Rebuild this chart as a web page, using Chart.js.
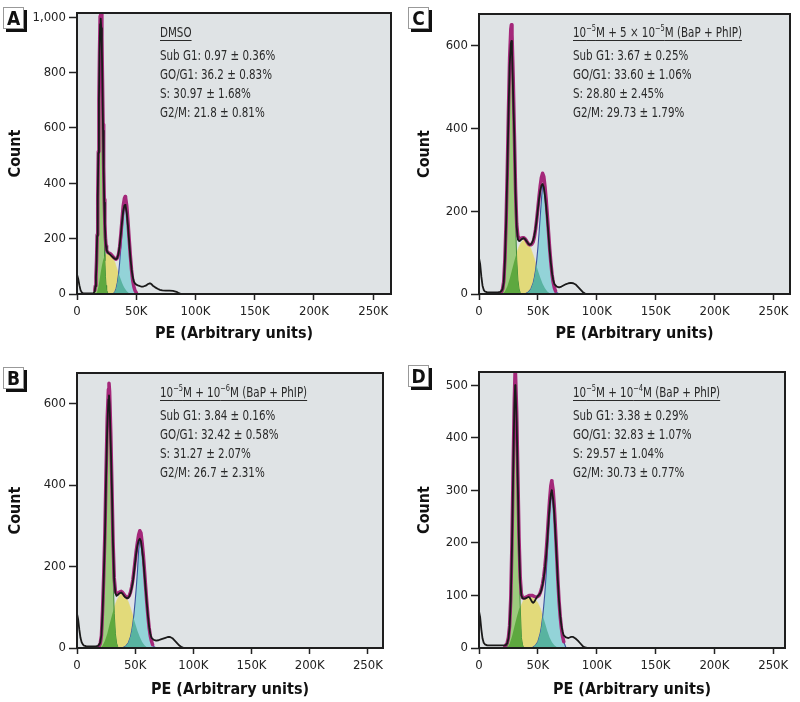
<!DOCTYPE html>
<html>
<head>
<meta charset="utf-8">
<script src="https://cdn.jsdelivr.net/npm/chart.js@4.4.1/dist/chart.umd.min.js"></script>
<style>
  body { margin: 0; background: #fff; width: 800px; height: 702px; position: relative; overflow: hidden;
         font-family: 'Liberation Sans Narrow', 'Arial Narrow', 'DejaVu Sans Condensed', sans-serif; }
  .panel { position: absolute; width: 400px; height: 351px; }
  .tag { position: absolute; width: 19px; height: 20px; background: #fff; border: 1px solid #999;
         box-shadow: 3px 3px 0 #111; font-weight: bold; font-size: 19px; line-height: 20px;
         text-align: center; color: #111; }
  .note { position: absolute; font-size: 14px; color: #2a2a2a; line-height: 19px; white-space: nowrap;
          transform: scaleX(0.82); transform-origin: 0 0; }
  .note .head { text-decoration: underline; text-underline-offset: 3px; margin-bottom: 4px; }
  .note sup { font-size: 9px; vertical-align: 6px; line-height: 0; }
</style>
</head>
<body>
<script>
// ---- data (x in K units of PE, y = count) ----
const xTicks = [0, 50, 100, 150, 200, 250];
const yTicksA = [0, 200, 400, 600, 800, 1000];
const yTicksB = [0, 200, 400, 600];
const yTicksC = [0, 200, 400, 600];
const yTicksD = [0, 100, 200, 300, 400, 500];

// A: DMSO
const blackXA = [0,1,2,3,4,5,6,8,10,12,14,15,15.5,16,16.5,17,17.5,18,18.5,19,19.5,20,20.5,21,21.5,22,22.5,23,23.5,24,24.5,25,26,27,28,29,30,31,32,33,34,35,36,37,38,39,40,40.7,41,42,43,44,45,46,47,48,49,50,52,54,56,58,60,61,62,63,64,66,68,70,72,75,78,81,84,86,88,265];
const blackYA = [70,55,32,14,6,3,2,2,2,2,3,10,28,60,115,210,345,510,700,870,975,995,960,880,740,590,445,330,250,200,172,158,150,146,142,138,134,130,127,126,130,145,175,215,260,300,320,322,318,292,245,190,135,92,62,45,38,34,30,27,27,30,36,38,38,35,30,24,19,15,13,12,12,11,8,3,0,0];
const fitXA = [15,15.5,16,16.5,17,17.5,18,18.5,19,19.5,20,20.5,21,21.5,22,22.5,23,23.5,24,24.5,25,26,27,28,29,30,31,32,33,34,35,36,37,38,39,40,40.7,41,42,43,44,45,46,47,48,49,50];
const fitYA = [13,30,62,120,214,348,515,701,874,1003,1058,1029,926,776,612,461,341,256,204,174,158,150,148,146,142,137,132,128,126,130,142,170,215,268,318,345,352,348,318,262,200,140,88,50,26,12,5];
const g1XA = [13,14,15,15.5,16,16.5,17,17.5,18,18.5,19,19.5,20,20.5,21,21.5,22,22.5,23,23.5,24,24.5,25,26,27];
const g1YA = [0,2,13,30,62,117,206,332,490,664,824,939,980,945,830,672,498,338,210,120,64,31,14,3,0];
const sXA = [16,17,18,19,20,21,22,23,24,25,26,27,28,29,30,31,32,33,34,35,36,37,38,39,40,41,42,43,44,45,46];
const sYA = [0,8,25,50,78,102,122,135,142,145,145,143,140,136,130,123,115,100,88,76,64,52,41,31,23,16,10,6,3,1,0];
const g2XA = [30,31,32,33,34,35,36,37,38,39,40,40.7,41,42,43,44,45,46,47,48,49,50,52,53];
const g2YA = [0,3,8,20,40,70,114,167,225,277,308,315,313,292,245,192,135,86,51,27,13,6,1,0];

// B: 10^-5 M + 10^-6 M
const blackXB = [0,1,2,3,4,5,6,7,8,10,12,14,16,18,19,20,21,22,23,24,25,26,27,27.5,28,29,30,31,32,33,34,35,36,37,38,39,40,41,42,43,44,45,46,47,48,49,50,51,52,53,54,55,56,57,58,59,60,61,62,63,64,66,68,70,72,74,76,78,80,82,84,86,88,90,92,263];
const blackYB = [84,70,45,25,14,9,6,5,4,4,4,4,4,5,8,14,32,90,175,270,420,540,610,620,600,500,390,250,165,135,128,130,133,135,136,134,130,126,124,122,123,127,135,147,162,185,210,235,253,264,268,262,240,215,180,145,110,78,52,35,25,20,18,19,21,23,25,27,27,24,18,12,6,2,0,0];
const fitXB = [19,20,21,22,23,24,25,26,27,27.5,28,29,30,31,32,33,34,35,36,37,38,39,40,41,42,43,44,45,46,47,48,49,50,51,52,53,54,55,56,57,58,59,60,61,62,63,64,65];
const fitYB = [5,12,30,95,180,285,435,565,635,650,630,530,400,260,172,140,133,134,136,138,139,137,133,129,126,124,125,129,137,150,167,190,215,240,260,278,288,282,258,228,190,150,112,78,50,30,17,8];
const g1XB = [19,20,21,22,23,24,25,26,27,27.5,28,29,30,31,32,33,34,35,36];
const g1YB = [0,3,12,45,115,235,395,530,600,610,595,480,320,180,85,35,12,3,0];
const sXB = [20,22,24,26,28,30,32,34,36,38,40,42,44,46,48,50,52,54,56,58,60,62];
const sYB = [0,6,18,35,58,80,100,116,127,133,132,126,114,98,80,60,42,27,15,7,2,0];
const g2XB = [40,42,44,46,47,48,49,50,51,52,53,54,55,56,57,58,59,60,61,62,63,64,65,66,68];
const g2YB = [2,5,12,28,42,60,85,115,150,190,240,266,255,232,205,175,135,100,70,46,28,15,8,4,0];

// C: 10^-5 M + 5x10^-5 M
const blackXC = [0,1,2,3,4,5,6,7,8,10,12,14,16,18,19,20,21,22,23,24,25,26,27,27.5,28,29,30,31,32,33,34,35,36,37,38,39,40,41,42,43,44,45,46,47,48,49,50,51,52,53,54,55,56,57,58,59,60,61,62,63,64,66,68,70,72,74,76,78,80,82,84,86,88,90,92,264];
const blackYC = [87,72,42,20,10,6,5,4,4,4,4,4,4,5,7,12,28,80,170,290,430,550,605,612,590,480,380,245,162,132,128,129,132,134,135,133,129,125,121,119,120,124,130,142,158,180,205,230,250,262,266,258,238,212,178,142,105,75,50,34,24,18,16,18,21,24,26,27,26,23,17,11,5,1,0,0];
const fitXC = [19,20,21,22,23,24,25,26,27,27.5,28,29,30,31,32,33,34,35,36,37,38,39,40,41,42,43,44,45,46,47,48,49,50,51,52,53,54,55,56,57,58,59,60,61,62,63,64,65];
const fitYC = [5,12,30,85,175,295,440,570,640,651,628,525,390,255,170,140,134,134,135,136,136,134,130,125,121,119,119,121,126,138,156,180,208,236,262,282,292,284,260,228,190,150,110,76,48,28,15,7];
const g1XC = [19,20,21,22,23,24,25,26,27,27.5,28,29,30,31,32,33,34,35,36];
const g1YC = [0,3,12,42,112,232,390,525,595,605,590,475,318,178,84,34,12,3,0];
const sXC = [20,22,24,26,28,30,32,34,36,38,40,42,44,46,48,50,52,54,56,58,60,62];
const sYC = [0,6,18,36,58,80,100,115,126,131,130,123,110,94,76,57,40,25,14,6,2,0];
const g2XC = [40,42,44,46,47,48,49,50,51,52,53,54,55,56,57,58,59,60,61,62,63,64,65,66,68];
const g2YC = [2,5,12,27,40,57,82,112,148,188,228,264,258,240,212,178,138,102,71,46,28,15,8,4,0];

// D: 10^-5 M + 10^-4 M
const blackXD = [0,1,2,3,4,5,6,7,8,10,12,14,16,18,20,22,23,24,25,26,27,28,29,30,30.7,31,32,33,34,35,36,37,38,39,40,41,42,43,44,45,46,47,48,49,50,51,52,53,54,55,56,57,58,59,60,61,61.8,62,63,64,65,66,67,68,69,70,71,72,74,76,78,80,82,84,86,88,90,92,260];
const blackYD = [70,58,35,18,10,7,6,5,5,5,5,5,5,5,5,5,6,9,18,40,90,190,330,455,500,495,430,310,195,125,100,95,94,94,95,96,97,96,92,88,86,88,92,96,99,101,104,110,120,133,150,173,203,238,270,292,300,298,283,255,215,172,127,90,62,43,31,24,20,19,21,21,18,14,9,4,1,0,0];
const fitXD = [22,23,24,25,26,27,28,29,30,30.7,31,32,33,34,35,36,37,38,39,40,41,42,43,44,45,46,47,48,49,50,51,52,53,54,55,56,57,58,59,60,61,61.8,62,63,64,65,66,67,68,69,70,71,72];
const fitYD = [3,6,10,20,42,95,200,340,470,530,522,450,330,210,135,103,96,95,96,97,98,99,100,100,100,99,98,97,97,98,100,105,112,122,136,155,180,212,248,282,308,318,316,300,268,225,178,130,90,60,38,22,12];
const g1XD = [23,24,25,26,27,28,29,30,30.7,31,32,33,34,35,36,37,38];
const g1YD = [0,3,10,28,70,160,290,420,480,475,405,285,165,80,20,6,0];
const sXD = [24,26,28,30,32,34,36,38,40,42,44,46,48,50,52,54,56,58,60,62,64,66,68];
const sYD = [0,8,22,40,58,74,82,92,95,96,96,95,92,86,76,63,48,33,20,11,5,2,0];
const g2XD = [46,48,50,52,53,54,55,56,57,58,59,60,61,61.8,62,63,64,65,66,67,68,69,70,71,72,74];
const g2YD = [2,5,12,28,40,58,80,106,138,178,222,258,282,290,288,272,244,206,165,123,86,57,36,21,12,0];

const headA = 'DMSO';
const headB = '10<sup>−5</sup>M + 10<sup>−6</sup>M (BaP + PhIP)';
const headC = '10<sup>−5</sup>M + 5 × 10<sup>−5</sup>M (BaP + PhIP)';
const headD = '10<sup>−5</sup>M + 10<sup>−4</sup>M (BaP + PhIP)';
const statsA = ['Sub G1: 0.97 ± 0.36%', 'GO/G1: 36.2 ± 0.83%', 'S: 30.97 ± 1.68%', 'G2/M: 21.8 ± 0.81%'];
const statsB = ['Sub G1: 3.84 ± 0.16%', 'GO/G1: 32.42 ± 0.58%', 'S: 31.27 ± 2.07%', 'G2/M: 26.7 ± 2.31%'];
const statsC = ['Sub G1: 3.67 ± 0.25%', 'GO/G1: 33.60 ± 1.06%', 'S: 28.80 ± 2.45%', 'G2/M: 29.73 ± 1.79%'];
const statsD = ['Sub G1: 3.38 ± 0.29%', 'GO/G1: 32.83 ± 1.07%', 'S: 29.57 ± 1.04%', 'G2/M: 30.73 ± 0.77%'];

// ---- layout / style ----
const FONT = "'Liberation Sans Narrow', 'Arial Narrow', 'DejaVu Sans Condensed', sans-serif";
const plotBg = '#dfe3e5';
const colG1 = '#9ccb7d', colG1S = '#5ea83f', colS = '#e2da7a', colG2 = '#93d3d8', colG2S = '#58b3a0';
const colFit = '#a4287a';

const panels = [
  { id: 'A', cx: 0,   cy: 0,   left: 77,  top: 13,  right: 391, bottom: 294, xTitleY: 334, yTitleX: 16,  xMax: 265, yMax: 1015, yTicks: yTicksA,
    black: [blackXA, blackYA], fit: [fitXA, fitYA], g1: [g1XA, g1YA], s: [sXA, sYA], g2: [g2XA, g2YA],
    head: headA, stats: statsA, noteX: 160, noteY: 23, tagX: 3, tagY: 7 },
  { id: 'C', cx: 400, cy: 0,   left: 479, top: 14,  right: 790, bottom: 294, xTitleY: 334, yTitleX: 425, xMax: 264, yMax: 677, yTicks: yTicksC,
    black: [blackXC, blackYC], fit: [fitXC, fitYC], g1: [g1XC, g1YC], s: [sXC, sYC], g2: [g2XC, g2YC],
    head: headC, stats: statsC, noteX: 573, noteY: 23, tagX: 408, tagY: 7 },
  { id: 'B', cx: 0,   cy: 351, left: 77,  top: 373, right: 383, bottom: 648, xTitleY: 690, yTitleX: 16,  xMax: 263, yMax: 675, yTicks: yTicksB,
    black: [blackXB, blackYB], fit: [fitXB, fitYB], g1: [g1XB, g1YB], s: [sXB, sYB], g2: [g2XB, g2YB],
    head: headB, stats: statsB, noteX: 160, noteY: 383, tagX: 3, tagY: 367 },
  { id: 'D', cx: 400, cy: 351, left: 479, top: 372, right: 785, bottom: 648, xTitleY: 690, yTitleX: 425, xMax: 260, yMax: 525, yTicks: yTicksD,
    black: [blackXD, blackYD], fit: [fitXD, fitYD], g1: [g1XD, g1YD], s: [sXD, sYD], g2: [g2XD, g2YD],
    head: headD, stats: statsD, noteX: 573, noteY: 383, tagX: 408, tagY: 365 },
];

function pts(pair) {
  return pair[0].map((x, i) => ({ x: x, y: pair[1][i] }));
}

function areaPath(ctx, meta, y0) {
  const p = meta.data;
  ctx.beginPath();
  ctx.moveTo(p[0].x, y0);
  p.forEach(e => ctx.lineTo(e.x, e.y));
  ctx.lineTo(p[p.length - 1].x, y0);
  ctx.closePath();
}

const framePlugin = {
  id: 'frame',
  beforeDatasetsDraw(chart) {
    const { ctx, chartArea: a } = chart;
    ctx.save();
    ctx.fillStyle = plotBg;
    ctx.fillRect(a.left, a.top, a.width, a.height);
    ctx.restore();
  },
  afterDatasetDraw(chart, args) {
    if (chart.data.datasets[args.index].label !== 'G2/M') return;
    // overlap of S phase with the G0/G1 and G2/M peaks
    const { ctx, chartArea: a } = chart;
    const y0 = chart.scales.y.getPixelForValue(0);
    const byLabel = l => chart.getDatasetMeta(chart.data.datasets.findIndex(d => d.label === l));
    ctx.save();
    ctx.beginPath();
    ctx.rect(a.left, a.top, a.width, a.height);
    ctx.clip();
    areaPath(ctx, byLabel('S'), y0);
    ctx.clip();
    areaPath(ctx, byLabel('G0/G1'), y0);
    ctx.fillStyle = colG1S;
    ctx.fill();
    areaPath(ctx, byLabel('G2/M'), y0);
    ctx.fillStyle = colG2S;
    ctx.fill();
    ctx.restore();
  },
  afterDraw(chart) {
    const { ctx, chartArea: a } = chart;
    ctx.save();
    ctx.strokeStyle = '#1e1e1e';
    ctx.lineWidth = 2;
    ctx.strokeRect(a.left, a.top, a.width, a.height);
    ctx.restore();
  }
};

panels.forEach(p => {
  const wrap = document.createElement('div');
  wrap.className = 'panel';
  wrap.style.left = p.cx + 'px';
  wrap.style.top = p.cy + 'px';
  const cv = document.createElement('canvas');
  cv.width = 400;
  cv.height = 351;
  wrap.appendChild(cv);
  document.body.appendChild(wrap);

  const tag = document.createElement('div');
  tag.className = 'tag';
  tag.style.left = p.tagX + 'px';
  tag.style.top = p.tagY + 'px';
  tag.textContent = p.id;
  document.body.appendChild(tag);

  const note = document.createElement('div');
  note.className = 'note';
  note.style.left = p.noteX + 'px';
  note.style.top = p.noteY + 'px';
  note.innerHTML = '<div class="head">' + p.head + '</div>' + p.stats.map(s => '<div>' + s + '</div>').join('');
  document.body.appendChild(note);

  const half = 9.6; // half of title line height (16px * 1.2)
  const tickFont = { family: FONT, size: 13 };
  const titleFont = { family: FONT, size: 16, weight: 'bold', lineHeight: 1.2 };
  const line = { borderJoinStyle: 'round', borderCapStyle: 'round' };

  new Chart(cv, {
    type: 'line',
    data: {
      datasets: [
        { label: 'Histogram', data: pts(p.black), borderColor: '#1a1a1a', borderWidth: 1.8, fill: false, order: 1, ...line },
        { label: 'Fit', data: pts(p.fit), borderColor: colFit, borderWidth: 3.5, fill: false, order: 2, ...line },
        { label: 'G2/M', data: pts(p.g2), borderColor: '#3a50a0', borderWidth: 1.1, backgroundColor: colG2, fill: 'origin', order: 3, ...line },
        { label: 'G0/G1', data: pts(p.g1), borderColor: '#3f8a3a', borderWidth: 1, backgroundColor: colG1, fill: 'origin', order: 4, ...line },
        { label: 'S', data: pts(p.s), borderColor: colS, borderWidth: 0.5, backgroundColor: colS, fill: 'origin', order: 5, ...line }
      ]
    },
    options: {
      responsive: false,
      animation: false,
      devicePixelRatio: 1,
      layout: {
        autoPadding: false,
        padding: {
          left: p.yTitleX - half - p.cx,
          top: p.top - p.cy,
          right: p.cx + 400 - p.right,
          bottom: p.cy + 351 - (p.xTitleY + half)
        }
      },
      plugins: { legend: { display: false }, tooltip: { enabled: false } },
      elements: { point: { radius: 0 }, line: { tension: 0 } },
      scales: {
        x: {
          type: 'linear', min: 0, max: p.xMax,
          afterBuildTicks: s => { s.ticks = xTicks.map(v => ({ value: v })); },
          afterFit: s => { s.height = p.xTitleY + half - p.bottom; },
          grid: { drawOnChartArea: false, drawTicks: true, tickLength: 6, tickWidth: 1.5, tickColor: '#222' },
          border: { display: false },
          ticks: { autoSkip: false, maxRotation: 0, padding: 4, font: tickFont, color: '#222',
                   callback: v => v === 0 ? '0' : v + 'K' },
          title: { display: true, text: 'PE (Arbitrary units)', font: titleFont, color: '#111', padding: 0 }
        },
        y: {
          type: 'linear', min: 0, max: p.yMax,
          afterBuildTicks: s => { s.ticks = p.yTicks.map(v => ({ value: v })); },
          afterFit: s => { s.width = p.left - (p.yTitleX - half); },
          grid: { drawOnChartArea: false, drawTicks: true, tickLength: 8, tickWidth: 1.5, tickColor: '#222' },
          border: { display: false },
          ticks: { autoSkip: false, padding: 3, font: tickFont, color: '#222',
                   callback: v => v.toLocaleString('en-US') },
          title: { display: true, text: 'Count', font: titleFont, color: '#111', padding: 0 }
        }
      }
    },
    plugins: [framePlugin]
  });
});
</script>
</body>
</html>
